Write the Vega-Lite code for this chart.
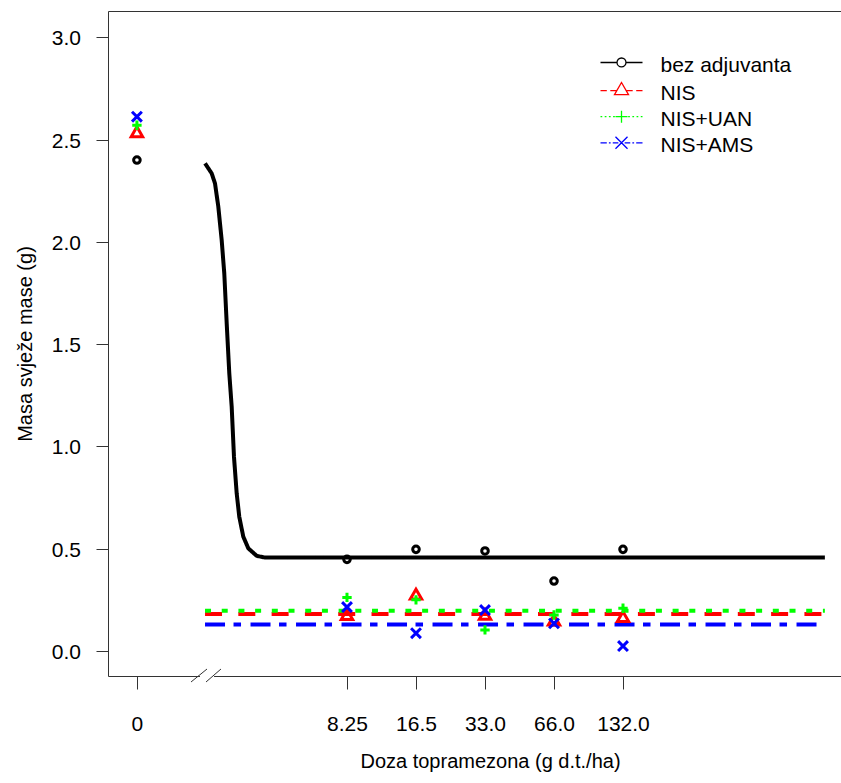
{
  "$schema": "https://vega.github.io/schema/vega-lite/v6.json",
  "width": 733,
  "height": 665,
  "autosize": {"type": "none"},
  "padding": {"left": 108, "top": 11, "right": 0, "bottom": 107},
  "background": "white",
  "config": {
    "view": {"stroke": null},
    "font": "Liberation Sans",
    "axis": {
      "grid": false,
      "domainColor": "#333333",
      "tickColor": "#333333",
      "domainWidth": 1,
      "tickWidth": 1,
      "labelColor": "#000000",
      "titleColor": "#000000",
      "labelFont": "Liberation Sans",
      "titleFont": "Liberation Sans",
      "labelFontSize": 21,
      "titleFontSize": 20,
      "titleFontWeight": "normal"
    }
  },
  "datasets": {
    "obs": [
      {"group": "bez adjuvanta", "dose": 0, "mass": 2.40},
      {"group": "bez adjuvanta", "dose": 8.25, "mass": 0.448},
      {"group": "bez adjuvanta", "dose": 16.5, "mass": 0.497},
      {"group": "bez adjuvanta", "dose": 33, "mass": 0.489},
      {"group": "bez adjuvanta", "dose": 66, "mass": 0.342},
      {"group": "bez adjuvanta", "dose": 132, "mass": 0.497},
      {"group": "NIS", "dose": 0, "mass": 2.53},
      {"group": "NIS", "dose": 8.25, "mass": 0.17},
      {"group": "NIS", "dose": 16.5, "mass": 0.27},
      {"group": "NIS", "dose": 33, "mass": 0.171},
      {"group": "NIS", "dose": 66, "mass": 0.143},
      {"group": "NIS", "dose": 132, "mass": 0.16},
      {"group": "NIS+UAN", "dose": 0, "mass": 2.57},
      {"group": "NIS+UAN", "dose": 8.25, "mass": 0.262},
      {"group": "NIS+UAN", "dose": 16.5, "mass": 0.25},
      {"group": "NIS+UAN", "dose": 33, "mass": 0.103},
      {"group": "NIS+UAN", "dose": 66, "mass": 0.176},
      {"group": "NIS+UAN", "dose": 132, "mass": 0.209},
      {"group": "NIS+AMS", "dose": 0, "mass": 2.612},
      {"group": "NIS+AMS", "dose": 8.25, "mass": 0.215},
      {"group": "NIS+AMS", "dose": 16.5, "mass": 0.087},
      {"group": "NIS+AMS", "dose": 33, "mass": 0.2},
      {"group": "NIS+AMS", "dose": 66, "mass": 0.135},
      {"group": "NIS+AMS", "dose": 132, "mass": 0.024}
    ],
    "fit": [
      {"group": "bez adjuvanta", "dose": 1.982, "mass": 2.384},
      {"group": "bez adjuvanta", "dose": 2.119, "mass": 2.335},
      {"group": "bez adjuvanta", "dose": 2.191, "mass": 2.286},
      {"group": "bez adjuvanta", "dose": 2.265, "mass": 2.172},
      {"group": "bez adjuvanta", "dose": 2.343, "mass": 2.009},
      {"group": "bez adjuvanta", "dose": 2.405, "mass": 1.846},
      {"group": "bez adjuvanta", "dose": 2.464, "mass": 1.602},
      {"group": "bez adjuvanta", "dose": 2.529, "mass": 1.358},
      {"group": "bez adjuvanta", "dose": 2.591, "mass": 1.194},
      {"group": "bez adjuvanta", "dose": 2.651, "mass": 0.95},
      {"group": "bez adjuvanta", "dose": 2.724, "mass": 0.771},
      {"group": "bez adjuvanta", "dose": 2.796, "mass": 0.656},
      {"group": "bez adjuvanta", "dose": 2.911, "mass": 0.559},
      {"group": "bez adjuvanta", "dose": 3.061, "mass": 0.502},
      {"group": "bez adjuvanta", "dose": 3.332, "mass": 0.465},
      {"group": "bez adjuvanta", "dose": 3.622, "mass": 0.457},
      {"group": "bez adjuvanta", "dose": 1003, "mass": 0.457},
      {"group": "NIS", "dose": 1.982, "mass": 0.181},
      {"group": "NIS", "dose": 1003, "mass": 0.181},
      {"group": "NIS+UAN", "dose": 1.982, "mass": 0.197},
      {"group": "NIS+UAN", "dose": 1003, "mass": 0.197},
      {"group": "NIS+AMS", "dose": 1.982, "mass": 0.129},
      {"group": "NIS+AMS", "dose": 1003, "mass": 0.129}
    ],
    "axisBreak": [
      {"part": "gap", "dose": 1.885, "dose2": 2.17, "mass": -0.1222, "mass2": -0.1222},
      {"part": "slash", "dose": 1.722, "dose2": 2.022, "mass": -0.1515, "mass2": -0.088},
      {"part": "slash", "dose": 2.002, "dose2": 2.327, "mass": -0.1515, "mass2": -0.088}
    ]
  },
  "encoding": {
    "y": {
      "field": "mass", "type": "quantitative",
      "scale": {"domain": [-0.1222, 3.1286], "nice": false, "zero": false},
      "axis": {
        "orient": "left",
        "values": [0, 0.5, 1, 1.5, 2, 2.5, 3],
        "format": ".1f",
        "tickSize": 12,
        "labelPadding": 15.5,
        "labelOffset": 1.5,
        "title": "Masa svježe mase (g)",
        "titleX": -77,
        "titleBaseline": "alphabetic"
      }
    }
  },
  "layer": [
    {
      "data": {"name": "fit"},
      "mark": {"type": "line", "strokeWidth": 4, "strokeJoin": "round"},
      "encoding": {
        "x": {
          "field": "dose", "type": "quantitative",
          "scale": {"type": "log", "domain": [0.7479, 1179.3], "nice": false},
          "axis": {"orient": "top", "labels": false, "ticks": false, "title": null, "domain": true}
        },
        "color": {
          "field": "group", "type": "nominal",
          "scale": {"domain": ["bez adjuvanta", "NIS", "NIS+UAN", "NIS+AMS"], "range": ["#000000", "#FF0000", "#00FF00", "#0000FF"]},
          "legend": null
        },
        "strokeDash": {
          "field": "group", "type": "nominal",
          "scale": {"domain": ["bez adjuvanta", "NIS", "NIS+UAN", "NIS+AMS"], "range": [[1, 0], [17, 16.3], [6, 10.7], [20, 8.5, 7.5, 9.5]]},
          "legend": null
        }
      }
    },
    {
      "data": {"name": "axisBreak"},
      "transform": [{"filter": "datum.part === 'gap'"}],
      "mark": {"type": "rule", "stroke": "white", "strokeWidth": 3},
      "encoding": {
        "x": {"field": "dose", "type": "quantitative", "scale": {"type": "log", "domain": [0.7479, 1179.3], "nice": false}, "axis": null},
        "x2": {"field": "dose2"},
        "y2": {"field": "mass2"}
      }
    },
    {
      "data": {"name": "axisBreak"},
      "transform": [{"filter": "datum.part === 'slash'"}],
      "mark": {"type": "rule", "stroke": "#333333", "strokeWidth": 1},
      "encoding": {
        "x": {"field": "dose", "type": "quantitative", "scale": {"type": "log", "domain": [0.7479, 1179.3], "nice": false}, "axis": null},
        "x2": {"field": "dose2"},
        "y2": {"field": "mass2"}
      }
    },
    {
      "data": {"name": "obs"},
      "transform": [{"calculate": "datum.dose === 0 ? 1 : datum.dose", "as": "doseAxis"}],
      "mark": {"type": "point", "filled": false, "opacity": 1, "strokeWidth": 3, "size": 144},
      "encoding": {
        "x": {
          "field": "doseAxis", "type": "quantitative",
          "scale": {"type": "log", "domain": [0.7479, 1179.3], "nice": false},
          "axis": {
            "orient": "bottom",
            "values": [1, 8.25, 16.5, 33, 66, 132],
            "labelExpr": "datum.value === 1 ? '0' : datum.value === 8.25 ? '8.25' : datum.value === 16.5 ? '16.5' : format(datum.value, '.1f')",
            "tickSize": 13,
            "labelPadding": 24,
            "labelOverlap": false,
            "labelFlush": false,
            "title": "Doza topramezona (g d.t./ha)",
            "titleX": 382,
            "titleY": 91,
            "titleBaseline": "alphabetic"
          }
        },
        "color": {
          "field": "group", "type": "nominal",
          "scale": {"domain": ["bez adjuvanta", "NIS", "NIS+UAN", "NIS+AMS"], "range": ["#000000", "#FF0000", "#00FF00", "#0000FF"]},
          "legend": null
        },
        "shape": {
          "field": "group", "type": "nominal",
          "scale": {"domain": ["bez adjuvanta", "NIS", "NIS+UAN", "NIS+AMS"], "range": ["M0.55,0A0.55,0.55 0 1,1 -0.55,0A0.55,0.55 0 1,1 0.55,0Z", "M0,-1.1L0.95,0.55L-0.95,0.55Z", "M-0.78,0H0.78M0,-0.78V0.78", "M-0.82,-0.82L0.82,0.82M-0.82,0.82L0.82,-0.82"]},
          "legend": null
        }
      }
    },
    {
      "data": {"name": "obs"},
      "transform": [{"filter": "datum.dose < 0"}],
      "mark": {"type": "point", "filled": false, "opacity": 1, "strokeWidth": 1.3, "size": 196},
      "encoding": {
        "x": {"field": "dose", "type": "quantitative", "scale": {"type": "log", "domain": [0.7479, 1179.3], "nice": false}, "axis": null},
        "color": {
          "field": "group", "type": "nominal",
          "scale": {"domain": ["bez adjuvanta", "NIS", "NIS+UAN", "NIS+AMS"], "range": ["#000000", "#FF0000", "#00FF00", "#0000FF"]},
          "legend": {
            "title": null, "orient": "none", "legendX": 503, "legendY": 44, "padding": 0, "rowPadding": 3.1,
            "labelFont": "Liberation Sans", "labelFontSize": 21, "labelColor": "#000000", "labelOffset": 28.5, "labelLimit": 0,
            "symbolSize": 196, "symbolStrokeWidth": 1.3
          }
        },
        "shape": {
          "field": "group", "type": "nominal",
          "scale": {"domain": ["bez adjuvanta", "NIS", "NIS+UAN", "NIS+AMS"], "range": [
            "M-3,-0.43H-0.64M0.64,-0.43H3M0.64,-0.43A0.64,0.64 0 1,1 -0.64,-0.43A0.64,0.64 0 1,1 0.64,-0.43",
            "M-3,-0.43H-2.1M-1.6,-0.43H-0.75M0.75,-0.43H1.6M2.1,-0.43H3M0,-1.585L1,0.147L-1,0.147Z",
            "M-3,-0.43H-2.75M-2.4,-0.43H-2.15M-1.8,-0.43H-1.55M-1.2,-0.43H-0.95M0.95,-0.43H1.2M1.55,-0.43H1.8M2.15,-0.43H2.4M2.75,-0.43H3M-0.86,-0.43H0.86M0,-1.29V0.43",
            "M-3,-0.43H-2.1M-1.8,-0.43H-1.55M-1.25,-0.43H-0.45M0.45,-0.43H1.25M1.55,-0.43H1.8M2.1,-0.43H3M-0.86,-1.29L0.86,0.43M-0.86,0.43L0.86,-1.29"
          ]},
          "legend": {
            "title": null, "orient": "none", "legendX": 503, "legendY": 44, "padding": 0, "rowPadding": 3.1,
            "labelFont": "Liberation Sans", "labelFontSize": 21, "labelColor": "#000000", "labelOffset": 28.5, "labelLimit": 0,
            "symbolSize": 196, "symbolStrokeWidth": 1.3
          }
        }
      }
    }
  ],
  "resolve": {"axis": {"x": "independent"}, "scale": {"shape": "independent", "color": "independent"}}
}
